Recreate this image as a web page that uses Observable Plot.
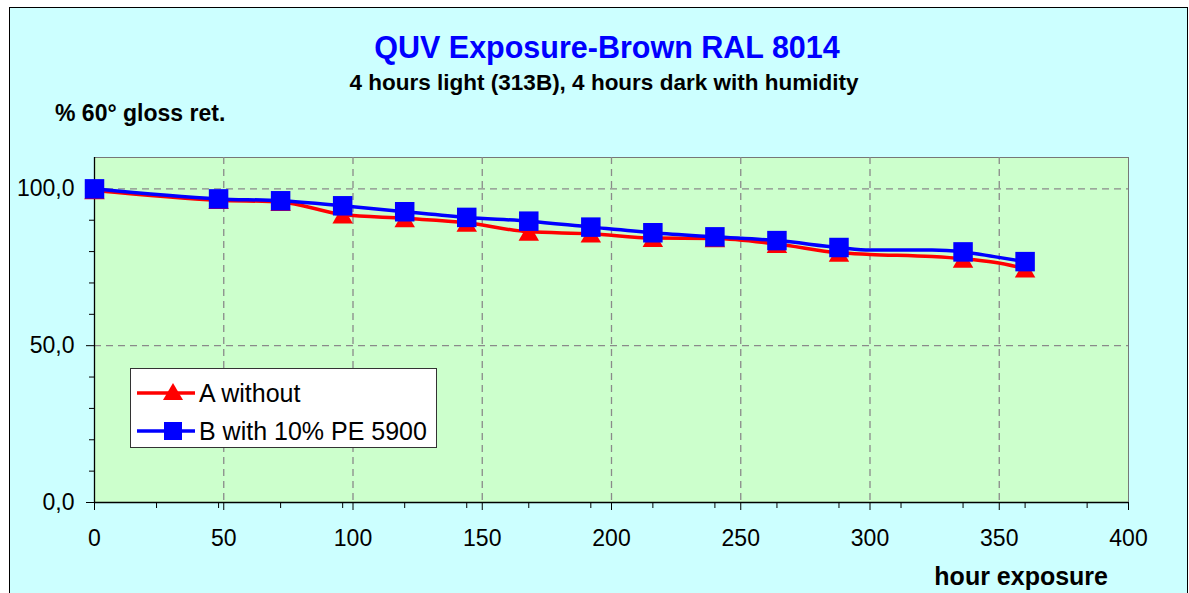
<!DOCTYPE html>
<html><head><meta charset="utf-8">
<script src="https://cdn.jsdelivr.net/npm/d3@7"></script>
<script src="https://cdn.jsdelivr.net/npm/@observablehq/plot@0.6"></script>
<style>
body{margin:0;background:#fff;}
#wrap{position:relative;width:1189px;height:593px;overflow:hidden;font-family:"Liberation Sans",Arial,sans-serif;}
#bg{position:absolute;left:9px;top:7px;width:1177px;height:640px;background:#CCFFFF;border:1.5px solid #000;}
#chart{position:absolute;left:0;top:0;}
.t{position:absolute;white-space:nowrap;font-weight:bold;}
#title{left:0;width:1214px;text-align:center;top:30px;font-size:30.5px;color:#0000FF;}
#sub{left:0;width:1208px;text-align:center;top:70px;font-size:22.5px;color:#000;}
#ylab{left:55px;top:100px;font-size:23px;color:#000;}
#xlab{right:81px;top:562px;font-size:25px;color:#000;}
#legend{position:absolute;left:130px;top:368px;width:305px;height:78px;background:#fff;border:1.5px solid #333;}
.li{position:absolute;left:0;width:300px;height:30px;font-size:25px;color:#000;white-space:nowrap;}
.li svg{position:absolute;left:6px;top:0;}
.li span{position:absolute;left:68px;top:0;line-height:30px;white-space:nowrap;}
</style></head>
<body>
<div id="wrap">
  <div id="bg"></div>
  <div id="chart"></div>
  <div class="t" id="title">QUV Exposure-Brown RAL 8014</div>
  <div class="t" id="sub">4 hours light (313B), 4 hours dark with humidity</div>
  <div class="t" id="ylab">% 60° gloss ret.</div>
  <div class="t" id="xlab">hour exposure</div>
  <div id="legend"></div>
</div>
<script>
// Data
const seriesNames = ["A without", "B with 10% PE 5900"];
const seriesColors = ["#FF0000", "#0000FF"];
// marker positions (hours)
const markerHours = [0, 48, 72, 96, 120, 144, 168, 192, 216, 240, 264, 288, 336, 360];
const markerA = [99.5, 96.4, 95.8, 91.8, 90.6, 89.2, 86.3, 85.7, 84.3, 84.2, 82.4, 79.6, 77.7, 74.6];
const markerB = [100, 96.8, 96.2, 94.6, 92.7, 90.9, 89.7, 87.8, 86.0, 84.7, 83.5, 81.3, 79.9, 76.8];
// line vertices (hours) – includes points without markers
const lineHours = [0, 48, 72, 96, 120, 144, 168, 192, 216, 240, 264, 288, 300, 324, 336, 348, 360];
const lineA = [99.5, 96.4, 95.8, 91.8, 90.6, 89.2, 86.3, 85.7, 84.3, 84.2, 82.4, 79.6, 79.1, 78.4, 77.7, 76.6, 74.6];
const lineB = [100, 96.8, 96.2, 94.6, 92.7, 90.9, 89.7, 87.8, 86.0, 84.7, 83.5, 81.3, 80.5, 80.5, 79.9, 78.4, 76.8];
// tick labels
const xTicks = [0, 50, 100, 150, 200, 250, 300, 350, 400];
const xMinorTicks = [24, 48, 72, 96, 120, 144, 168, 192, 216, 240, 264, 288, 312, 336, 360, 384];
const yTicks = [0, 50, 100];
const yMinorTicks = [10, 20, 30, 40, 60, 70, 80, 90];
const xGrid = [50, 100, 150, 200, 250, 300, 350];
const yGrid = [50, 100];

const lineDataA = lineHours.map((h, i) => ({h, v: lineA[i]}));
const lineDataB = lineHours.map((h, i) => ({h, v: lineB[i]}));
const markDataA = markerHours.map((h, i) => ({h, v: markerA[i]}));
const markDataB = markerHours.map((h, i) => ({h, v: markerB[i]}));

const fmt = d => d.toFixed(1).replace(".", ",");

const chart = Plot.plot({
  width: 1189,
  height: 593,
  marginLeft: 94,
  marginRight: 61,
  marginTop: 157,
  marginBottom: 91,
  style: {background: "transparent", fontFamily: "Liberation Sans, Arial, sans-serif", color: "#000", overflow: "visible"},
  x: {domain: [0, 400]},
  y: {domain: [0, 110]},
  marks: [
    Plot.frame({fill: "#CCFFCC", stroke: "#777", strokeWidth: 1}),
    Plot.ruleX(xGrid, {stroke: "#8a8a8a", strokeWidth: 1.3, strokeDasharray: "7,5"}),
    Plot.ruleY(yGrid, {stroke: "#8a8a8a", strokeWidth: 1.3, strokeDasharray: "7,5"}),
    Plot.ruleX([0], {stroke: "#000", strokeWidth: 1.3}),
    Plot.ruleY([0], {stroke: "#000", strokeWidth: 1.3}),
    Plot.axisX(xTicks, {tickSize: 8, tickPadding: 19, fontSize: 23, label: null, stroke: "#000"}),
    Plot.axisX(xMinorTicks, {tickSize: 6, tickFormat: () => "", label: null, stroke: "#000"}),
    Plot.axisY(yTicks, {tickSize: 8, tickPadding: 12, fontSize: 23, tickFormat: fmt, label: null, stroke: "#000"}),
    Plot.axisY(yMinorTicks, {tickSize: 5, tickFormat: () => "", label: null, stroke: "#000"}),
    Plot.line(lineDataA, {x: "h", y: "v", stroke: seriesColors[0], strokeWidth: 3.5, curve: "monotone-x"}),
    Plot.dot(markDataA, {x: "h", y: "v", symbol: "triangle", fill: seriesColors[0], r: 7.6, dy: 3}),
    Plot.line(lineDataB, {x: "h", y: "v", stroke: seriesColors[1], strokeWidth: 3.5, curve: "monotone-x"}),
    Plot.dot(markDataB, {x: "h", y: "v", symbol: "square", fill: seriesColors[1], r: 11})
  ]
});
document.getElementById("chart").appendChild(chart);

// legend
const legend = document.getElementById("legend");
seriesNames.forEach((name, i) => {
  const item = document.createElement("div");
  item.className = "li";
  item.style.top = (i === 0 ? 9 : 47) + "px";
  const sym = i === 0
    ? '<polygon points="36,5 46,22 26,22" fill="' + seriesColors[i] + '"/>'
    : '<rect x="27" y="6" width="18" height="18" fill="' + seriesColors[i] + '"/>';
  item.innerHTML = '<svg width="60" height="30"><line x1="0" x2="58" y1="15" y2="15" stroke="' + seriesColors[i] + '" stroke-width="3.5"/>' + sym + '</svg><span>' + name + '</span>';
  legend.appendChild(item);
});
</script>
</body></html>
